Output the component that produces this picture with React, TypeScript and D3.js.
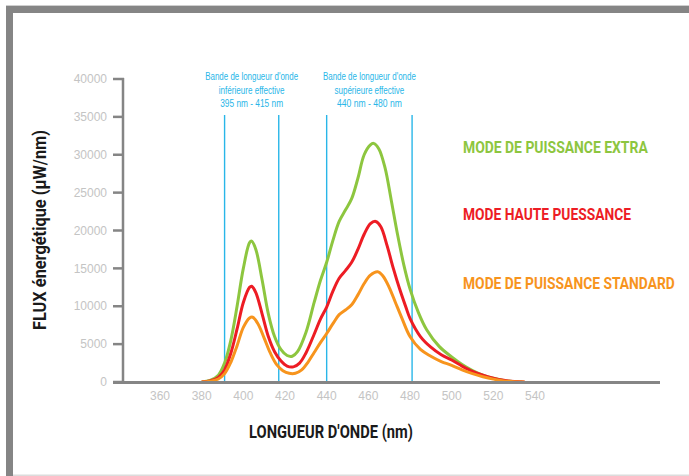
import React, { useLayoutEffect, useRef, useState } from "react";
import * as d3 from "d3";

const W = 689;
const H = 476;

const yTicks = [0, 5000, 10000, 15000, 20000, 25000, 30000, 35000, 40000];
const xTicks = [360, 380, 400, 420, 440, 460, 480, 500, 520, 540];
const bandLines = [391, 417, 440, 481];

const extraSeries: [number, number][] = [
  [380, 0], [384, 200], [388, 900], [391, 2500], [394, 5500], [397, 10000], [400, 15000],
  [403, 18400], [404, 18600], [406, 17500], [409, 13500], [412, 9000], [415, 6000],
  [418, 4300], [421, 3500], [423.5, 3400], [426, 4000], [430, 6500], [434, 10500],
  [437, 13400], [440, 15800], [443, 18700], [446, 21200], [449, 22700], [452, 24200],
  [455, 26900], [458, 30000], [461, 31300], [462.5, 31500], [465, 30800], [468, 28300],
  [471, 24000], [474, 19500], [477, 15500], [480, 12300], [484, 9200], [488, 6900],
  [494, 4700], [500, 3300], [505, 2300], [510, 1500], [515, 900], [520, 500], [525, 200],
  [530, 50], [534, 0],
];

const highSeries: [number, number][] = [
  [380, 0], [384, 150], [388, 600], [391, 1600], [394, 3800], [397, 7000], [400, 10500],
  [403, 12500], [404, 12650], [406, 11800], [409, 9000], [412, 6000], [415, 4000],
  [418, 2800], [421, 2100], [424, 2000], [427, 2500], [430, 3800], [434, 6300],
  [437, 8300], [440, 9900], [443, 12000], [446, 13700], [449, 14700], [452, 15800],
  [455, 17500], [458, 19500], [461, 20900], [463.5, 21200], [466, 20500], [469, 18000],
  [472, 15000], [475, 12300], [478, 9900], [480, 8400], [485, 6000], [490, 4600],
  [495, 3600], [500, 2900], [505, 2100], [510, 1400], [515, 900], [520, 500], [525, 220],
  [530, 60], [535, 0],
];

const standardSeries: [number, number][] = [
  [380, 0], [384, 100], [388, 400], [391, 1100], [394, 2600], [397, 4800], [400, 7200],
  [403, 8450], [404.5, 8550], [407, 7700], [410, 5800], [413, 3800], [416, 2300],
  [419, 1500], [422, 1150], [425, 1150], [428, 1600], [431, 2600], [434, 3900],
  [437, 5200], [440, 6400], [443, 7700], [446, 8900], [449, 9500], [452, 10200],
  [455, 11500], [458, 13000], [461, 14100], [464.5, 14550], [467, 14000], [470, 12500],
  [473, 10500], [476, 8500], [480, 6000], [485, 4300], [490, 3400], [495, 2700],
  [500, 2200], [505, 1600], [510, 1100], [515, 700], [520, 380], [525, 150], [530, 40],
  [535, 0],
];

const series = [
  { name: "MODE DE PUISSANCE EXTRA", color: "#8dc63f", data: extraSeries, ly: 153, lw: 185 },
  { name: "MODE HAUTE PUESSANCE", color: "#ed1c24", data: highSeries, ly: 220, lw: 168 },
  { name: "MODE DE PUISSANCE STANDARD", color: "#f7941d", data: standardSeries, ly: 289, lw: 212 },
];

const bandLabels = [
  {
    from: 391,
    to: 417,
    lines: ["Bande de longueur d'onde", "inférieure effective", "395 nm - 415 nm"],
    widths: [93, 66, 63],
  },
  {
    from: 440,
    to: 481,
    lines: ["Bande de longueur d'onde", "supérieure effective", "440 nm - 480 nm"],
    widths: [93, 70, 65],
  },
];

type FitProps = {
  x: number;
  y: number;
  width: number;
  anchor?: "start" | "middle" | "end";
  rotate?: number;
  children: string;
  [k: string]: any;
};

function FitText({ x, y, width, anchor = "start", rotate = 0, children, ...rest }: FitProps) {
  const ref = useRef<SVGTextElement>(null);
  const [sx, setSx] = useState(1);
  useLayoutEffect(() => {
    if (ref.current) {
      const w = ref.current.getComputedTextLength();
      if (w > 0) setSx(width / w);
    }
  }, [width, children]);
  return (
    <g transform={`translate(${x},${y}) rotate(${rotate}) scale(${sx},1)`}>
      <text ref={ref} x={0} y={0} textAnchor={anchor} {...rest}>
        {children}
      </text>
    </g>
  );
}

export default function App() {
  const x = d3.scaleLinear().domain([360, 540]).range([160, 535]);
  const y = d3.scaleLinear().domain([0, 40000]).range([382, 79]);
  const line = d3
    .line<[number, number]>()
    .x((d) => x(d[0]))
    .y((d) => y(d[1]))
    .curve(d3.curveCatmullRom.alpha(0.5));

  const gray = "#858585";
  const tickColor = "#c4c4c4";
  const blue = "#29b6e8";
  const sans = "'Liberation Sans', Arial, sans-serif";
  const bold = "'Roboto', 'Liberation Sans', Arial, sans-serif";

  return (
    <div style={{ position: "fixed", left: 0, top: 0 }}>
      <svg width={W} height={H} style={{ display: "block", background: "#fff" }}>
        {/* frame */}
        <rect x={6} y={5} width={W} height={1.2} fill="#cfcfcf" />
        <rect x={6} y={6} width={W} height={7} fill={gray} />
        <rect x={6} y={6} width={7} height={H} fill={gray} />
        <rect x={13} y={474.5} width={W} height={1.5} fill="#dcdcdc" />

        {/* y axis */}
        <line x1={123} x2={123} y1={y(40000) - 1} y2={y(0)} stroke={gray} strokeWidth={2.5} />
        {yTicks.map((t) => (
          <g key={t}>
            <line x1={113} x2={124} y1={y(t)} y2={y(t)} stroke={gray} strokeWidth={2.5} />
            <text x={107} y={y(t)} dy="0.35em" textAnchor="end" fontFamily={sans} fontSize={12} fill={tickColor}>
              {t}
            </text>
          </g>
        ))}

        {/* band lines */}
        {bandLines.map((b) => (
          <line key={b} x1={x(b)} x2={x(b)} y1={115} y2={y(0)} stroke={blue} strokeWidth={1.4} />
        ))}
        {bandLabels.map((bl, i) =>
          bl.lines.map((l, j) => (
            <FitText
              key={`${i}-${j}`}
              x={(x(bl.from) + x(bl.to)) / 2}
              y={80 + j * 13.5}
              width={bl.widths[j]}
              anchor="middle"
              fontFamily={sans}
              fontSize={10.5}
              fill={blue}
            >
              {l}
            </FitText>
          ))
        )}

        {/* curves */}
        {series.map((s) => (
          <path
            key={s.name}
            d={line(s.data) || ""}
            fill="none"
            stroke={s.color}
            strokeWidth={3}
            strokeLinejoin="round"
          />
        ))}

        {/* x axis */}
        <line x1={113} x2={660} y1={y(0) + 0.5} y2={y(0) + 0.5} stroke={gray} strokeWidth={3} />
        {xTicks.map((t) => (
          <text key={t} x={x(t)} y={400} textAnchor="middle" fontFamily={sans} fontSize={12} fill={tickColor}>
            {t}
          </text>
        ))}

        {/* legend */}
        {series.map((s) => (
          <FitText
            key={s.name}
            x={463}
            y={s.ly}
            width={s.lw}
            fontFamily={bold}
            fontWeight="bold"
            fontSize={17}
            fill={s.color}
          >
            {s.name}
          </FitText>
        ))}

        {/* axis titles */}
        <FitText
          x={331}
          y={438}
          width={164}
          anchor="middle"
          fontFamily={bold}
          fontWeight="bold"
          fontSize={19}
          fill="#1a1a1a"
        >
          LONGUEUR D'ONDE (nm)
        </FitText>
        <FitText
          x={46}
          y={230}
          width={200}
          rotate={-90}
          anchor="middle"
          fontFamily={bold}
          fontWeight="bold"
          fontSize={18}
          fill="#1a1a1a"
        >
          FLUX énergétique (µW/nm)
        </FitText>
      </svg>
    </div>
  );
}
